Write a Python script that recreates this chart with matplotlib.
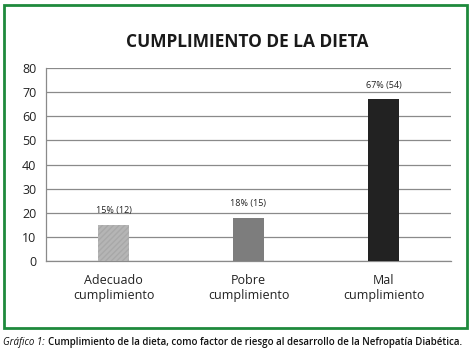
import matplotlib.pyplot as plt
from matplotlib.patches import Rectangle

# data
categorias = ['Adecuado\ncumplimiento', 'Pobre\ncumplimiento', 'Mal\ncumplimiento']
valores = [15, 18, 67]
etiquetas = ['15% (12)', '18% (15)', '67% (54)']
colores = ['#b5b5b5', '#7d7d7d', '#222222']
yticks = [0, 10, 20, 30, 40, 50, 60, 70, 80]

plt.rcParams['font.family'] = ['Open Sans', 'DejaVu Sans']

fig = plt.figure(figsize=(4.71, 3.54), dpi=100)
W, H = 471, 354
ax = fig.add_axes([46 / W, 1 - 261 / H, 405 / W, 193 / H])

x = list(range(len(categorias)))
bars = ax.bar(x, valores, width=0.23, color=colores, zorder=3)
bars[0].set_hatch('//////')
bars[0].set_edgecolor('#a8a8a8')
bars[0].set_linewidth(0)

for xi, v, t in zip(x, valores, etiquetas):
    ax.text(xi, v + 4, t, ha='center', va='bottom', fontsize=6.5, color='#222222')

ax.set_xlim(-0.5, 2.5)
ax.set_ylim(0, 80)
ax.set_yticks(yticks)
ax.set_yticklabels([str(t) for t in yticks], fontsize=9, color='#222222')
ax.set_xticks(x)
ax.set_xticklabels(categorias, fontsize=9, color='#222222', linespacing=1.2)
ax.tick_params(length=0, pad=7)
ax.tick_params(axis='x', pad=9)
ax.grid(axis='y', color='#8a8a8a', linewidth=0.9, zorder=0)
for s in ['top', 'right']:
    ax.spines[s].set_visible(False)
for s in ['left', 'bottom']:
    ax.spines[s].set_color('#8a8a8a')
    ax.spines[s].set_linewidth(0.9)

fig.text(247 / W, 1 - 42 / H, 'CUMPLIMIENTO DE LA DIETA', ha='center', va='center',
         fontsize=12.5, fontweight='bold', color='#1a1a1a')

# green frame
fig.patches.append(Rectangle((4 / W, 1 - 328 / H), 463 / W, 323 / H, transform=fig.transFigure,
                             fill=False, edgecolor='#1e8a3c', linewidth=2))

t1 = fig.text(3 / W, 1 - 343 / H, 'Gráfico 1:', style='italic', fontsize=7, va='center', ha='left',
              color='#111111')
fig.canvas.draw()
bb = t1.get_window_extent()
fig.text(bb.x1 / W + 3 / W, 1 - 343 / H,
         'Cumplimiento de la dieta, como factor de riesgo al desarrollo de la Nefropatía Diabética.',
         fontsize=7, va='center', ha='left', color='#111111', fontweight='semibold')

plt.savefig('out.png', dpi=100)
